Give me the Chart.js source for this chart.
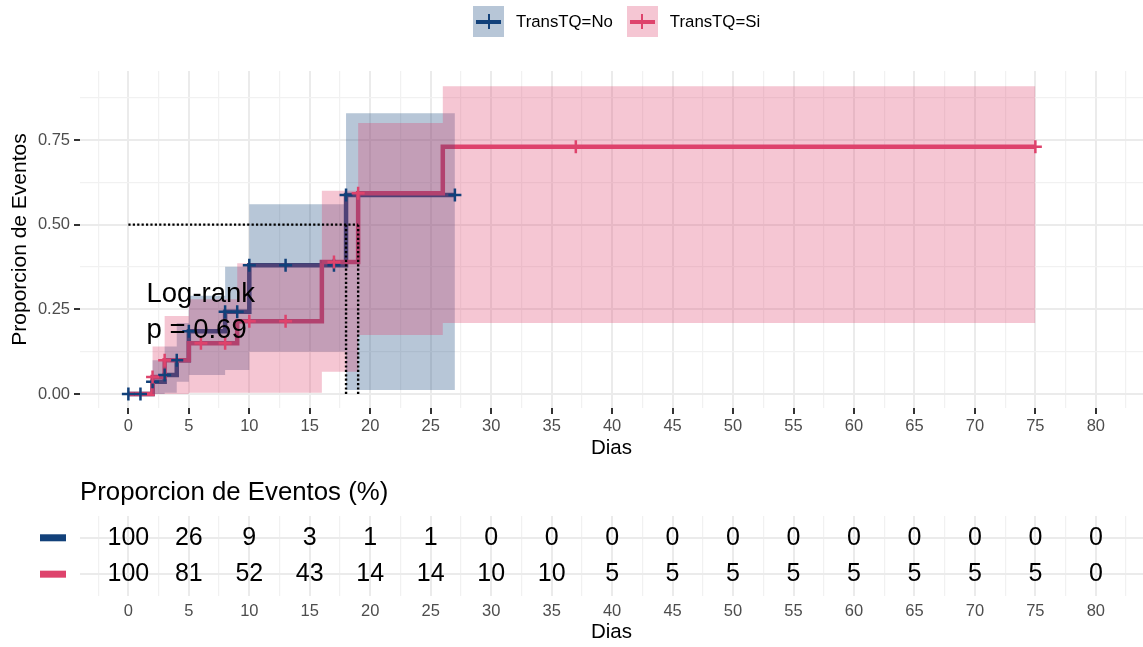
<!DOCTYPE html>
<html>
<head>
<meta charset="utf-8">
<title>Proporcion de Eventos por TransTQ</title>
<script src="https://cdn.jsdelivr.net/npm/chart.js@4.4.1/dist/chart.umd.min.js"></script>
<style>
  html, body { margin: 0; padding: 0; background: #fff; overflow: hidden; }
  #wrap { position: relative; width: 1143px; height: 647px; font-family: 'Liberation Sans', Arial, sans-serif; }
  #main { position: absolute; left: 0; top: 0; }
  #risk { position: absolute; left: 0; top: 470px; }
  #legend { position: absolute; top: 6px; left: 473px; display: flex; align-items: center; font-size: 16.8px; color: #000; }
  .key { position: relative; width: 31px; height: 31px; }
  .key .h { position: absolute; left: 3px; right: 3px; top: 13.5px; height: 4px; }
  .key .v { position: absolute; left: 14.5px; width: 2px; top: 8px; height: 15px; }
  .lab { margin-left: 12px; margin-right: 14px; white-space: nowrap; }
</style>
</head>
<body>
<div id="wrap">
  <canvas id="main" width="1143" height="462"></canvas>
  <canvas id="risk" width="1143" height="177"></canvas>
  <div id="legend"></div>
</div>
<script>
// ---- groups ----
const groups = ['TransTQ=No', 'TransTQ=Si'];
const groupColors = ['#12417A', '#DE436C'];
const bandColors = ['rgba(18,65,122,0.3)', 'rgba(222,67,108,0.3)'];

// ---- TransTQ=No: cumulative event curve and confidence band ----
const noTimes  = [0, 2, 3, 4, 5, 8, 10, 18, 27];
const noEst    = [0, 0.036, 0.056, 0.10, 0.185, 0.243, 0.38, 0.5875, 0.5875];
const noUpper  = [0, 0.10, 0.14, 0.21, 0.29, 0.376, 0.56, 0.829, 0.829];
const noLower  = [0, 0, 0.004, 0.036, 0.056, 0.071, 0.125, 0.012, 0.012];
const noCensor = [0, 1, 2, 3, 4, 5, 8, 9, 10, 13, 17, 18, 27];

// ---- TransTQ=Si: cumulative event curve and confidence band ----
const siTimes  = [0, 2, 3, 5, 9, 16, 19, 26, 75];
const siEst    = [0, 0.05, 0.10, 0.15, 0.215, 0.39, 0.5925, 0.73, 0.73];
const siUpper  = [0, 0.14, 0.23, 0.28, 0.386, 0.60, 0.80, 0.909, 0.909];
const siLower  = [0, 0, 0, 0.004, 0.004, 0.066, 0.174, 0.21, 0.21];
const siCensor = [2, 3, 6, 8, 10, 13, 17, 19, 37, 75];

// ---- median time to event per group ----
const medians = [18, 19];
const medianLevel = 0.5;

// ---- axes ----
const xTicks = [0, 5, 10, 15, 20, 25, 30, 35, 40, 45, 50, 55, 60, 65, 70, 75, 80];
const yTicks = [0, 0.25, 0.5, 0.75];

// ---- table: proportion of events (%) at each tick ----
const tableTimes = [0, 5, 10, 15, 20, 25, 30, 35, 40, 45, 50, 55, 60, 65, 70, 75, 80];
const tableNo = [100, 26, 9, 3, 1, 1, 0, 0, 0, 0, 0, 0, 0, 0, 0, 0, 0];
const tableSi = [100, 81, 52, 43, 14, 14, 10, 10, 5, 5, 5, 5, 5, 5, 5, 5, 0];

const pvalLines = ['Log-rank', 'p = 0.69'];

// ---------------------------------------------------------------
const FONT = "'Liberation Sans', Arial, sans-serif";
const X_MIN = -4, X_MAX = 83.9;
const Y_MIN = -0.0413, Y_MAX = 0.9537;

function stepAt(times, vals, t) {
  let v = vals[0];
  for (let i = 0; i < times.length; i++) if (times[i] <= t + 1e-9) v = vals[i];
  return v;
}
const pts = (times, vals) => times.map((t, i) => ({ x: t, y: vals[i] }));

// major ticks plus the half-step minor grid positions
function withMinor(majors, lo, hi) {
  const step = majors[1] - majors[0];
  const out = [];
  majors.forEach(m => { out.push(m - step / 2, m); });
  out.push(majors[majors.length - 1] + step / 2);
  return out.filter(v => v >= lo && v <= hi);
}
const xGrid = withMinor(xTicks, X_MIN, X_MAX);
const yGrid = withMinor(yTicks, Y_MIN, Y_MAX);
const isMajorX = c => c.tick && xTicks.includes(c.tick.value);
const isMajorY = c => c.tick && yTicks.includes(c.tick.value);

// keep the plotting area flush with the fixed axis boxes
const noPad = s => { s.paddingLeft = 0; s.paddingRight = 0; s.paddingTop = 0; s.paddingBottom = 0; };

// ---- legend ----
const legendEl = document.getElementById('legend');
groups.forEach((g, i) => {
  const key = document.createElement('div');
  key.className = 'key';
  key.style.background = bandColors[i];
  key.innerHTML = `<div class="h" style="background:${groupColors[i]}"></div><div class="v" style="background:${groupColors[i]}"></div>`;
  const lab = document.createElement('span');
  lab.className = 'lab';
  lab.textContent = g;
  legendEl.appendChild(key);
  legendEl.appendChild(lab);
});

// ---- main plot ----
const stepLine = (data, color, order) => ({
  data, borderColor: color, borderWidth: 4.5, stepped: true, pointRadius: 0, fill: false, order
});
const band = (data, color, fillTarget, order) => ({
  data, borderWidth: 0, borderColor: 'rgba(0,0,0,0)', backgroundColor: color, stepped: true,
  pointRadius: 0, fill: fillTarget, order
});
const marks = (times, est, censor, color, order) => ({
  data: censor.map(t => ({ x: t, y: stepAt(times, est, t) })),
  showLine: false, pointStyle: 'cross', pointRadius: 6.5, borderWidth: 2.5,
  borderColor: color, backgroundColor: color, order
});
const dotted = (data) => ({
  data, borderColor: '#000', borderWidth: 2.4, borderDash: [2.2, 2.2], pointRadius: 0, fill: false, order: 3
});

const maxMedian = Math.max(...medians);
const datasets = [
  stepLine(pts(noTimes, noEst), groupColors[0], 10),
  stepLine(pts(siTimes, siEst), groupColors[1], 9),
  band(pts(noTimes, noUpper), bandColors[0], '+1', 8),
  band(pts(noTimes, noLower), bandColors[0], false, 8),
  band(pts(siTimes, siUpper), bandColors[1], '+1', 7),
  band(pts(siTimes, siLower), bandColors[1], false, 7),
  dotted([{ x: 0, y: medianLevel }, { x: maxMedian, y: medianLevel }]),
  ...medians.map(m => dotted([{ x: m, y: 0 }, { x: m, y: medianLevel }])),
  marks(noTimes, noEst, noCensor, groupColors[0], 2),
  marks(siTimes, siEst, siCensor, groupColors[1], 1)
];

const pvalPlugin = {
  id: 'pval',
  afterDatasetsDraw(chart) {
    const { ctx, scales: { x, y } } = chart;
    ctx.save();
    ctx.font = `27.5px ${FONT}`;
    ctx.fillStyle = '#000';
    ctx.textAlign = 'left';
    ctx.textBaseline = 'alphabetic';
    const px = x.getPixelForValue(1.5);
    const py = y.getPixelForValue(0.2725);
    pvalLines.forEach((line, i) => ctx.fillText(line, px, py + i * 36.6));
    ctx.restore();
  }
};

new Chart(document.getElementById('main'), {
  type: 'line',
  data: { datasets },
  plugins: [pvalPlugin],
  options: {
    responsive: false,
    animation: false,
    events: [],
    layout: { autoPadding: false, padding: { top: 71, left: 0, right: 0, bottom: 0 } },
    plugins: { legend: { display: false }, tooltip: { enabled: false }, title: { display: false } },
    scales: {
      x: {
        type: 'linear', min: X_MIN, max: X_MAX,
        afterBuildTicks: s => { s.ticks = xGrid.map(v => ({ value: v })); },
        afterFit: s => { s.height = 54; noPad(s); },
        ticks: {
          autoSkip: false, maxRotation: 0, minRotation: 0, padding: 3, color: '#4D4D4D',
          font: { family: FONT, size: 16.5 },
          callback: v => xTicks.includes(v) ? String(v) : ''
        },
        grid: {
          color: c => isMajorX(c) ? '#EBEBEB' : '#F1F1F1',
          lineWidth: c => isMajorX(c) ? 2 : 1.2,
          tickColor: c => isMajorX(c) ? '#333333' : 'rgba(0,0,0,0)',
          tickWidth: 2, tickLength: 6
        },
        border: { display: false },
        title: { display: true, text: 'Dias', color: '#000', font: { family: FONT, size: 20.5 }, padding: { top: 0, bottom: 1 } }
      },
      y: {
        type: 'linear', min: Y_MIN, max: Y_MAX,
        afterBuildTicks: s => { s.ticks = yGrid.map(v => ({ value: v })); },
        afterFit: s => { s.width = 80; noPad(s); },
        ticks: {
          autoSkip: false, padding: 4, color: '#4D4D4D',
          font: { family: FONT, size: 16.5 },
          callback: v => yTicks.includes(v) ? v.toFixed(2) : ''
        },
        grid: {
          color: c => isMajorY(c) ? '#EBEBEB' : '#F1F1F1',
          lineWidth: c => isMajorY(c) ? 2 : 1.2,
          tickColor: c => isMajorY(c) ? '#333333' : 'rgba(0,0,0,0)',
          tickWidth: 2, tickLength: 6
        },
        border: { display: false },
        title: { display: true, text: 'Proporcion de Eventos', color: '#000', font: { family: FONT, size: 21 }, padding: { top: 8, bottom: 0 } }
      }
    }
  }
});

// ---- table below the plot ----
const rows = [2, 1]; // row positions: TransTQ=No on top, TransTQ=Si below
const tableSeries = [tableNo, tableSi];
const tableDatasets = tableSeries.map((vals, gi) => ({
  data: tableTimes.map((t, i) => ({ x: t, y: rows[gi], v: vals[i] })),
  pointRadius: 0, showLine: false
}));

const tablePlugin = {
  id: 'tableText',
  afterDatasetsDraw(chart) {
    const { ctx, scales: { y } } = chart;
    ctx.save();
    chart.data.datasets.forEach((ds, di) => {
      const meta = chart.getDatasetMeta(di);
      ctx.font = `25px ${FONT}`;
      ctx.fillStyle = '#000';
      ctx.textAlign = 'center';
      ctx.textBaseline = 'middle';
      meta.data.forEach((pt, i) => ctx.fillText(String(ds.data[i].v), pt.x, pt.y));
      ctx.fillStyle = groupColors[di];
      ctx.fillRect(40, y.getPixelForValue(rows[di]) - 3.5, 26, 7);
    });
    ctx.restore();
  }
};

new Chart(document.getElementById('risk'), {
  type: 'scatter',
  data: { datasets: tableDatasets },
  plugins: [tablePlugin],
  options: {
    responsive: false,
    animation: false,
    events: [],
    layout: { autoPadding: false, padding: 0 },
    plugins: {
      legend: { display: false }, tooltip: { enabled: false },
      title: {
        display: true, text: 'Proporcion de Eventos (%)', align: 'start', fullSize: false,
        color: '#000', font: { family: FONT, size: 25.8, weight: 'normal' }, padding: { top: 7.5, bottom: 7.5 }
      }
    },
    scales: {
      x: {
        type: 'linear', min: X_MIN, max: X_MAX,
        afterBuildTicks: s => { s.ticks = xGrid.map(v => ({ value: v })); },
        afterFit: s => { s.height = 51; noPad(s); },
        ticks: {
          autoSkip: false, maxRotation: 0, minRotation: 0, padding: 6, color: '#4D4D4D',
          font: { family: FONT, size: 16.5 },
          callback: v => xTicks.includes(v) ? String(v) : ''
        },
        grid: {
          color: c => isMajorX(c) ? '#EBEBEB' : '#F1F1F1',
          lineWidth: c => isMajorX(c) ? 2 : 1.2,
          drawTicks: false
        },
        border: { display: false },
        title: { display: true, text: 'Dias', color: '#000', font: { family: FONT, size: 20.5 }, padding: { top: 0, bottom: 2 } }
      },
      y: {
        type: 'linear', min: 0.4, max: 2.6,
        afterBuildTicks: s => { s.ticks = rows.map(v => ({ value: v })); },
        afterFit: s => { s.width = 80; noPad(s); },
        ticks: { display: false },
        grid: { color: '#EBEBEB', lineWidth: 2, drawTicks: false },
        border: { display: false }
      }
    }
  }
});
</script>
</body>
</html>
